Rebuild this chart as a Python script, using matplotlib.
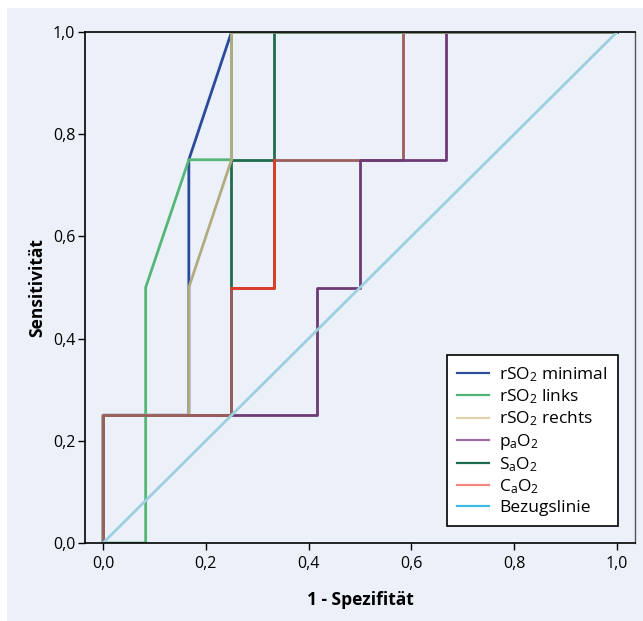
import matplotlib
matplotlib.use("Agg")
import matplotlib.pyplot as plt
from matplotlib.lines import Line2D
from matplotlib.patches import Rectangle

plt.rcParams["font.family"] = ["Open Sans", "DejaVu Sans"]
plt.rcParams["mathtext.default"] = "regular"

# ROC curve points (1 - Spezifitaet, Sensitivitaet)
min_x = [0, 0, 0.167, 0.167, 0.25, 1.0]
min_y = [0, 0.25, 0.25, 0.75, 1.0, 1.0]

links_x = [0, 0.083, 0.083, 0.167, 0.25, 0.25, 1.0]
links_y = [0, 0, 0.5, 0.75, 0.75, 1.0, 1.0]

rechts_x = [0, 0, 0.167, 0.167, 0.25, 0.25, 1.0]
rechts_y = [0, 0.25, 0.25, 0.5, 0.75, 1.0, 1.0]

pao2_x = [0, 0, 0.417, 0.417, 0.5, 0.5, 0.667, 0.667, 1.0]
pao2_y = [0, 0.25, 0.25, 0.5, 0.5, 0.75, 0.75, 1.0, 1.0]

sao2_x = [0, 0, 0.25, 0.25, 0.333, 0.333, 1.0]
sao2_y = [0, 0.25, 0.25, 0.75, 0.75, 1.0, 1.0]

cao2_x = [0, 0, 0.25, 0.25, 0.333, 0.333, 0.583, 0.583, 1.0]
cao2_y = [0, 0.25, 0.25, 0.5, 0.5, 0.75, 0.75, 1.0, 1.0]

ref_x = [0, 1]
ref_y = [0, 1]

ticks = [0, 0.2, 0.4, 0.6, 0.8, 1.0]
tick_labels = ["0,0", "0,2", "0,4", "0,6", "0,8", "1,0"]

labels = [r"rSO$_2$ minimal", r"rSO$_2$ links", r"rSO$_2$ rechts",
          r"p$_a$O$_2$", r"S$_a$O$_2$", r"C$_a$O$_2$", "Bezugslinie"]
legend_colors = ["#2f4f9a", "#4cb573", "#ddd3a6", "#9a6fa0",
                 "#1f6b4d", "#f08a80", "#3dbde3"]

fig = plt.figure(figsize=(6.43, 6.21), dpi=100)
fig.patch.set_facecolor("white")
fig.patches.append(Rectangle((7 / 643, 0), 1, (621 - 8) / 621,
                             transform=fig.transFigure, facecolor="#ecf1f9",
                             edgecolor="none", zorder=-1))

ax = fig.add_axes([85 / 643, (621 - 543) / 621, 550 / 643, 511 / 621])
ax.set_facecolor("#ecf1f9")

lw = 2.0
ax.plot(sao2_x, sao2_y, color="#1f6b4d", lw=lw, zorder=2.2)
ax.plot(cao2_x, cao2_y, color="#9b5e5a", lw=lw, zorder=2.5)
ax.plot(pao2_x, pao2_y, color="#6e3a74", lw=lw, zorder=3)
ax.plot(min_x, min_y, color="#2a4b9b", lw=lw, zorder=3.5)
ax.plot(cao2_x[3:6], cao2_y[3:6], color="#dd3a2a", lw=lw, zorder=4)
ax.plot(links_x, links_y, color="#55b677", lw=lw, zorder=5)
ax.plot(rechts_x, rechts_y, color="#b2ab80", lw=lw, zorder=6)
ax.plot(cao2_x[:3], cao2_y[:3], color="#9b5e5a", lw=lw, zorder=6.5)
ax.plot(ref_x, ref_y, color="#9ccfe0", lw=lw, zorder=7)

ax.set_xlim(-0.035, 1.035)
ax.set_ylim(0, 1)
ax.set_xticks(ticks)
ax.set_xticklabels(tick_labels)
ax.set_yticks(ticks)
ax.set_yticklabels(tick_labels)
ax.tick_params(direction="out", length=5, width=1, labelsize=11.5)
ax.tick_params(axis="x", pad=4)
ax.tick_params(axis="y", pad=2)

for side in ["left", "bottom", "top"]:
    ax.spines[side].set_color("black")
    ax.spines[side].set_linewidth(1.2)
ax.spines["right"].set_color("#555555")
ax.spines["right"].set_linewidth(1)
for sp in ax.spines.values():
    sp.set_zorder(9)

ax.set_xlabel("1 - Spezifität", fontsize=12.5, fontweight="bold", labelpad=14)
ax.set_ylabel("Sensitivität", fontsize=12.5, fontweight="bold", labelpad=5)

handles = [Line2D([0], [0], color=c, lw=1.6) for c in legend_colors]
leg = ax.legend(handles, labels, loc="lower right", bbox_to_anchor=(0.969, 0.033),
                borderaxespad=0, fontsize=12.5, frameon=True, fancybox=False,
                framealpha=1, edgecolor="black", handlelength=1.8,
                handletextpad=0.6, labelspacing=0.2, borderpad=0.6)
leg.get_frame().set_linewidth(1.2)
leg.set_zorder(10)

plt.savefig("out.png", dpi=100)
